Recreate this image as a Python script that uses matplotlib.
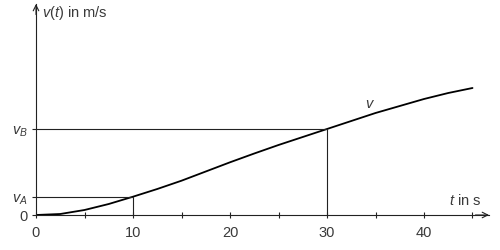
import matplotlib.pyplot as plt

# values (v in arbitrary units)
t_vals = [0, 2.5, 5, 7.5, 10, 12.5, 15, 17.5, 20, 22.5, 25, 27.5, 30, 32.5, 35, 37.5, 40, 42.5, 45]
v_vals = [0, 1, 5, 11, 18.3, 26, 34.3, 43.5, 52.7, 61.5, 70, 78, 86, 94, 102, 109, 116, 122, 127]

t_A, v_A = 10, 18.3
t_B, v_B = 30, 86

x_ticks = [0, 10, 20, 30, 40]
x_minor = [5, 15, 25, 35, 45]
y_ticks = [0, v_A, v_B]
y_labels = ['0', '$v_A$', '$v_B$']

plt.rcParams['font.family'] = ['Liberation Sans', 'DejaVu Sans']
plt.rcParams['mathtext.fontset'] = 'custom'
plt.rcParams['mathtext.it'] = 'Liberation Sans:italic'
plt.rcParams['mathtext.rm'] = 'Liberation Sans'

txt = '#3a3a3a'
fig = plt.figure(figsize=(5, 2.51), dpi=100)
ax = fig.add_axes([36/500, 35/251, 453/500, 211/251])
ax.set_xlim(0, 453/9.7)
ax.set_ylim(0, 211)

ax.plot(t_vals, v_vals, color='black', lw=1.3, solid_capstyle='round')
ax.plot([0, t_A, t_A], [v_A, v_A, 0], color='#222222', lw=0.8)
ax.plot([0, t_B, t_B], [v_B, v_B, 0], color='#222222', lw=0.8)

for s in ['top', 'right']:
    ax.spines[s].set_visible(False)
for s in ['left', 'bottom']:
    ax.spines[s].set_linewidth(0.8)
    ax.spines[s].set_color('#222222')

ax.annotate('', xy=(1.0, 0), xycoords='axes fraction', xytext=(0.97, 0),
            arrowprops=dict(arrowstyle='->', lw=0.8, color='#222222', shrinkA=0, shrinkB=0))
ax.annotate('', xy=(0, 1.0), xycoords='axes fraction', xytext=(0, 0.95),
            arrowprops=dict(arrowstyle='->', lw=0.8, color='#222222', shrinkA=0, shrinkB=0))

ax.set_xticks(x_ticks)
ax.set_xticks(x_minor, minor=True)
ax.set_yticks(y_ticks)
ax.set_yticklabels(y_labels)
ax.tick_params(axis='x', which='both', direction='inout', length=5, width=0.8,
               color='#222222', labelcolor=txt, labelsize=10.5, pad=5)
ax.tick_params(axis='y', direction='out', length=3, width=0.8,
               color='#222222', labelcolor=txt, labelsize=10.5, pad=3)

ax.text(0.6, 203, '$v(t)$ in m/s', color=txt, fontsize=10.5, va='center', ha='left')
ax.text(42.6, 15, '$t$ in s', color=txt, fontsize=10.5, va='center', ha='left')
ax.text(34.4, 112, '$v$', color=txt, fontsize=10.5, va='center', ha='center')

fig.savefig('out.png', dpi=100)
